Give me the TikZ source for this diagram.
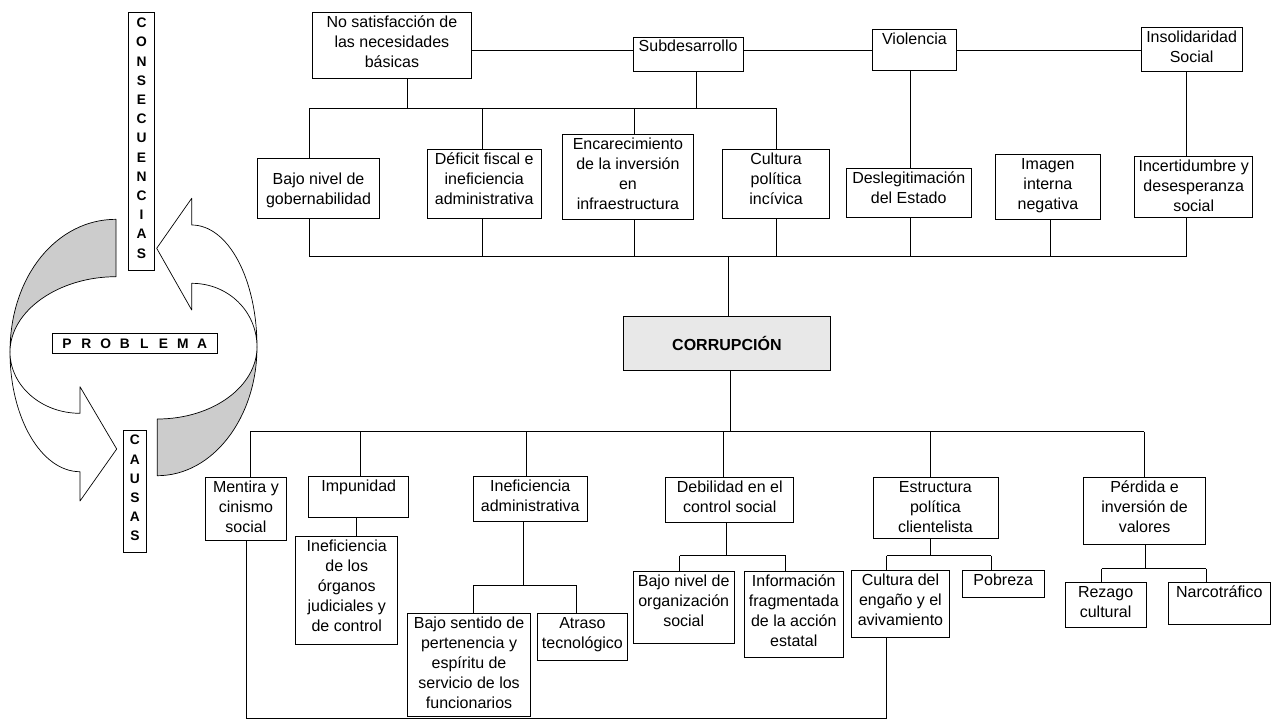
\documentclass[tikz,border=0pt]{standalone}
\usepackage{fontspec}
\setmainfont{Liberation Sans}
\usetikzlibrary{calc}
\definecolor{ribgray}{RGB}{204,204,204}
\tikzset{
  box/.style={draw, fill=white, inner sep=0pt, line width=0.8pt, font=\fontsize{16}{20}\selectfont},
  conn/.style={line width=0.9pt},
  ribbon/.style={draw, line width=0.7pt, line join=round},
  letterbox/.style={draw, fill=white, inner sep=0pt, line width=0.8pt, font=\bfseries\fontsize{13.8}{19.2}\selectfont},
}
% \bx[first line height]{name}{x}{y}{w}{h}{text}
\newcommand\bx[7][15]{\node[box, anchor=north west] (#2) at (#3,#4) {\parbox[c][#6pt][t]{#5pt}{\centering\rule{0pt}{#1pt}#7}};}
\newcommand\lt[1]{\makebox[19.3pt]{#1}}
\begin{document}
\begin{tikzpicture}[x=1pt,y=-1pt]
\useasboundingbox (0,0) rectangle (1271,721);

% ---------- cycle graphic ----------
\path[ribbon, fill=ribgray] (116,219.3) .. controls (57.1,219.3) and (10,275.6) .. (10,352)
   .. controls (10,310.4) and (59.1,276.7) .. (116,276.7) -- cycle;
\path[ribbon, fill=ribgray] (257,347) .. controls (257,417.6) and (212.9,475.7) .. (157.3,475.7)
   -- (157.3,419) .. controls (212.9,419) and (257,386.3) .. (257,347) -- cycle;
\path[ribbon, fill=white] (10,352) .. controls (10,418) and (41.4,471.7) .. (80,471.7)
   -- (80,501) -- (116.7,449) -- (80,386.7) -- (80,413.3)
   .. controls (41.4,413.3) and (10,385.8) .. (10,352) -- cycle;
\path[ribbon, fill=white] (191.7,225) .. controls (228.3,225) and (257,279.2) .. (257,347)
   .. controls (257,311.4) and (228.3,283.3) .. (191.7,283.3)
   -- (191.7,310) -- (156.7,248.3) -- (191.7,198.3) -- cycle;

\node[letterbox, anchor=north west] (cons) at (128.3,12.3)
  {\parbox[c][257.7pt][t]{25.7pt}{\centering\rule{0pt}{15pt}C\\O\\N\\S\\E\\C\\U\\E\\N\\C\\I\\A\\S}};
\node[letterbox, anchor=north west] (caus) at (123.3,430)
  {\parbox[c][122.3pt][t]{22.4pt}{\centering\rule{0pt}{14.5pt}C\\A\\U\\S\\A\\S}};
\node[letterbox, anchor=north west, minimum width=165pt, minimum height=20pt] (prob) at (51.7,333.3)
  {\lt{P}\lt{R}\lt{O}\lt{B}\lt{L}\lt{E}\lt{M}\lt{A}};

% ---------- consequences ----------
\bx{nosat}{312.3}{11.7}{158.4}{66.6}{No satisfacción de\\las necesidades\\básicas}
\bx[14]{subdes}{632.7}{36.7}{110}{34}{Subdesarrollo}
\bx{viol}{871.7}{29.3}{84.6}{40.7}{Violencia}
\bx{insol}{1140.7}{26.7}{101}{44.6}{Insolidaridad\\Social}

\bx[26]{bajogob}{257.3}{158.3}{121.7}{59.4}{Bajo nivel de\\gobernabilidad}
\bx{deficit}{426.7}{149.3}{114.3}{68.4}{Déficit fiscal e\\ineficiencia\\administrativa}
\bx{encar}{562.3}{134}{130.4}{85}{Encarecimiento\\de la inversión\\en\\infraestructura}
\bx{cultpol}{722}{148.7}{107.3}{69}{Cultura\\política\\incívica}
\bx{desleg}{845.7}{168.3}{125.3}{49}{Deslegitimación\\del Estado}
\bx{imagen}{995}{154}{105}{65}{Imagen\\interna\\negativa}
\bx{incert}{1134.3}{156}{118}{61.3}{Incertidumbre y\\desesperanza\\social}

\node[box, fill=gray!18, anchor=north west, minimum width=207.6pt, minimum height=54pt,
      font=\bfseries\fontsize{16}{20}\selectfont] (corr) at (622.7,315.7) {CORRUPCIÓN};

% ---------- causes ----------
\bx{mentira}{205}{477.3}{81}{62.7}{Mentira y\\cinismo\\social}
\bx{impun}{308.3}{476}{100}{41.3}{Impunidad}
\bx{inefadm}{473}{476}{113.7}{44.7}{Ineficiencia\\administrativa}
\bx{debil}{665.4}{476.7}{127.9}{45}{Debilidad en el\\control social}
\bx{estruc}{872.5}{477.3}{125}{61}{Estructura\\política\\clientelista}
\bx{perdida}{1083.3}{477.3}{121.7}{66.7}{Pérdida e\\inversión de\\valores}

\bx{inefjud}{295.3}{535.7}{102}{108.6}{Ineficiencia\\de los\\órganos\\judiciales y\\de control}
\bx{bajosent}{407.3}{612.7}{122.7}{103.3}{Bajo sentido de\\pertenencia y\\espíritu de\\servicio de los\\funcionarios}
\bx{atraso}{537}{612.7}{90}{47.3}{Atraso\\tecnológico}
\bx{bajoorg}{632.9}{570.7}{100.8}{72.6}{Bajo nivel de\\organización\\social}
\bx{inform}{743.8}{570.7}{99.1}{86.6}{Información\\fragmentada\\de la acción\\estatal}
\bx{cultengano}{851.3}{569.7}{97.5}{67}{Cultura del\\engaño y el\\avivamiento}
\bx{pobreza}{962}{569.7}{81.7}{27}{Pobreza}
\bx{rezago}{1064.6}{582.3}{81.2}{45}{Rezago\\cultural}
\bx{narco}{1167.9}{582.3}{102}{42}{Narcotráfico}

% ---------- connectors: top ----------
\coordinate (ytop) at (0,50.7);
\draw[conn] (nosat.east |- ytop) -- (subdes.west |- ytop);
\draw[conn] (subdes.east |- ytop) -- (viol.west |- ytop);
\draw[conn] (viol.east |- ytop) -- (insol.west |- ytop);

\coordinate (ja1) at (407.7,108.3);
\coordinate (ja2) at (696.7,108.3);
\coordinate (da1) at (309.3,108.3);
\coordinate (da2) at (482.7,108.3);
\coordinate (da3) at (634,108.3);
\coordinate (da4) at (776,108.3);
\draw[conn] (nosat.south -| ja1) -- (ja1);
\draw[conn] (subdes.south -| ja2) -- (ja2);
\draw[conn] (da1) -- (da4);
\draw[conn] (da1) -- (bajogob.north -| da1);
\draw[conn] (da2) -- (deficit.north -| da2);
\draw[conn] (da3) -- (encar.north -| da3);
\draw[conn] (da4) -- (cultpol.north -| da4);

\coordinate (vx) at (910,0);
\draw[conn] (viol.south -| vx) -- (desleg.north -| vx);
\coordinate (ix) at (1186,0);
\draw[conn] (insol.south -| ix) -- (incert.north -| ix);

\coordinate (db1) at (309.3,256.7);
\coordinate (db2) at (482.7,256.7);
\coordinate (db3) at (634,256.7);
\coordinate (db4) at (776,256.7);
\coordinate (db5) at (910,256.7);
\coordinate (db6) at (1050.3,256.7);
\coordinate (db7) at (1186,256.7);
\coordinate (dbc) at (728,256.7);
\draw[conn] (db1) -- (db7);
\draw[conn] (bajogob.south -| db1) -- (db1);
\draw[conn] (deficit.south -| db2) -- (db2);
\draw[conn] (encar.south -| db3) -- (db3);
\draw[conn] (cultpol.south -| db4) -- (db4);
\draw[conn] (desleg.south -| db5) -- (db5);
\draw[conn] (imagen.south -| db6) -- (db6);
\draw[conn] (incert.south -| db7) -- (db7);
\draw[conn] (dbc) -- (corr.north -| dbc);

% ---------- connectors: bottom ----------
\coordinate (dcc) at (730,431.7);
\coordinate (dc1) at (250,431.7);
\coordinate (dc2) at (360,431.7);
\coordinate (dc3) at (526.7,431.7);
\coordinate (dc4) at (723.3,431.7);
\coordinate (dc5) at (930.4,431.7);
\coordinate (dc6) at (1144,431.7);
\draw[conn] (corr.south -| dcc) -- (dcc);
\draw[conn] (dc1) -- (dc6);
\draw[conn] (dc1) -- (mentira.north -| dc1);
\draw[conn] (dc2) -- (impun.north -| dc2);
\draw[conn] (dc3) -- (inefadm.north -| dc3);
\draw[conn] (dc4) -- (debil.north -| dc4);
\draw[conn] (dc5) -- (estruc.north -| dc5);
\draw[conn] (dc6) -- (perdida.north -| dc6);

\coordinate (imx) at (356,0);
\draw[conn] (impun.south -| imx) -- (inefjud.north -| imx);

\coordinate (ea) at (523.3,585);
\coordinate (ea1) at (473,585);
\coordinate (ea2) at (576.7,585);
\draw[conn] (inefadm.south -| ea) -- (ea);
\draw[conn] (ea1) -- (ea2);
\draw[conn] (ea1) -- (bajosent.north -| ea1);
\draw[conn] (ea2) -- (atraso.north -| ea2);

\coordinate (eb) at (726.3,555.7);
\coordinate (eb1) at (679.6,555.7);
\coordinate (eb2) at (785.8,555.7);
\draw[conn] (debil.south -| eb) -- (eb);
\draw[conn] (eb1) -- (eb2);
\draw[conn] (eb1) -- (bajoorg.north -| eb1);
\draw[conn] (eb2) -- (inform.north -| eb2);

\coordinate (ec) at (930.4,555.7);
\coordinate (ec1) at (886.7,555.7);
\coordinate (ec2) at (991.3,555.7);
\draw[conn] (estruc.south -| ec) -- (ec);
\draw[conn] (ec1) -- (ec2);
\draw[conn] (ec1) -- (cultengano.north -| ec1);
\draw[conn] (ec2) -- (pobreza.north -| ec2);

\coordinate (ed) at (1145,568.7);
\coordinate (ed1) at (1101.7,568.7);
\coordinate (ed2) at (1206.3,568.7);
\draw[conn] (perdida.south -| ed) -- (ed);
\draw[conn] (ed1) -- (ed2);
\draw[conn] (ed1) -- (rezago.north -| ed1);
\draw[conn] (ed2) -- (narco.north -| ed2);

\coordinate (bl1) at (246.7,718);
\coordinate (bl2) at (886.7,718);
\draw[conn] (mentira.south -| bl1) -- (bl1) -- (bl2) -- (cultengano.south -| bl2);
\end{tikzpicture}
\end{document}
